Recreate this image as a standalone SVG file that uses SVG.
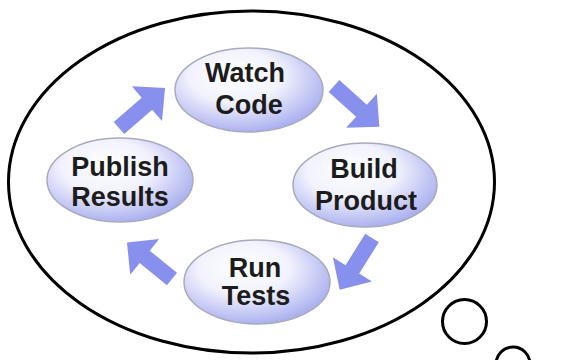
<svg xmlns="http://www.w3.org/2000/svg" width="574" height="360" viewBox="0 0 574 360">
<style>
.bubble{fill:#fff;stroke:#000;stroke-width:3}
.node{fill:url(#ng);stroke:#a9abbd;stroke-width:1.5}
.lbl{font-family:"Liberation Sans",Arial,sans-serif;font-weight:bold;font-size:27px;fill:#1c1c1c;text-anchor:middle}
.arr{fill:#8790ec}
</style>
<defs>
<radialGradient id="ng" cx="0.42" cy="0.38" r="0.7" fx="0.4" fy="0.3">
<stop offset="0" stop-color="#ffffff"/>
<stop offset="0.45" stop-color="#f1f2fd"/>
<stop offset="1" stop-color="#9da3ec"/>
</radialGradient>
<path id="ar" d="M0,-8 L37,-8 L37,-23 L61,0 L37,23 L37,8 L0,8 Z"/>
</defs>
<rect width="574" height="360" fill="#fff"/>
<g id="thought">
<ellipse class="bubble" cx="251.5" cy="182" rx="243" ry="171"/>
<circle class="bubble" cx="464.5" cy="321.5" r="22"/>
<circle class="bubble" cx="513" cy="364" r="17"/>
</g>
<g id="connectors">
<use href="#ar" class="arr" transform="translate(119,128) rotate(-41)"/>
<use href="#ar" class="arr" transform="translate(334,86) rotate(42)"/>
<use href="#ar" class="arr" transform="translate(372,238) rotate(122)"/>
<use href="#ar" class="arr" transform="translate(172,279) rotate(-141) scale(0.95,1)"/>
</g>
<g id="watch">
<ellipse class="node" cx="249" cy="90" rx="74" ry="42"/>
<text class="lbl" x="245" y="82">Watch</text>
<text class="lbl" x="249" y="114">Code</text>
</g>
<g id="build">
<ellipse class="node" cx="365" cy="185" rx="72" ry="42"/>
<text class="lbl" x="364" y="178">Build</text>
<text class="lbl" x="366" y="210">Product</text>
</g>
<g id="run">
<ellipse class="node" cx="257" cy="282" rx="73" ry="42"/>
<text class="lbl" x="255" y="277">Run</text>
<text class="lbl" x="256" y="305">Tests</text>
</g>
<g id="publish">
<ellipse class="node" cx="120" cy="180" rx="73" ry="42"/>
<text class="lbl" x="120" y="176">Publish</text>
<text class="lbl" x="120" y="206">Results</text>
</g>
</svg>
